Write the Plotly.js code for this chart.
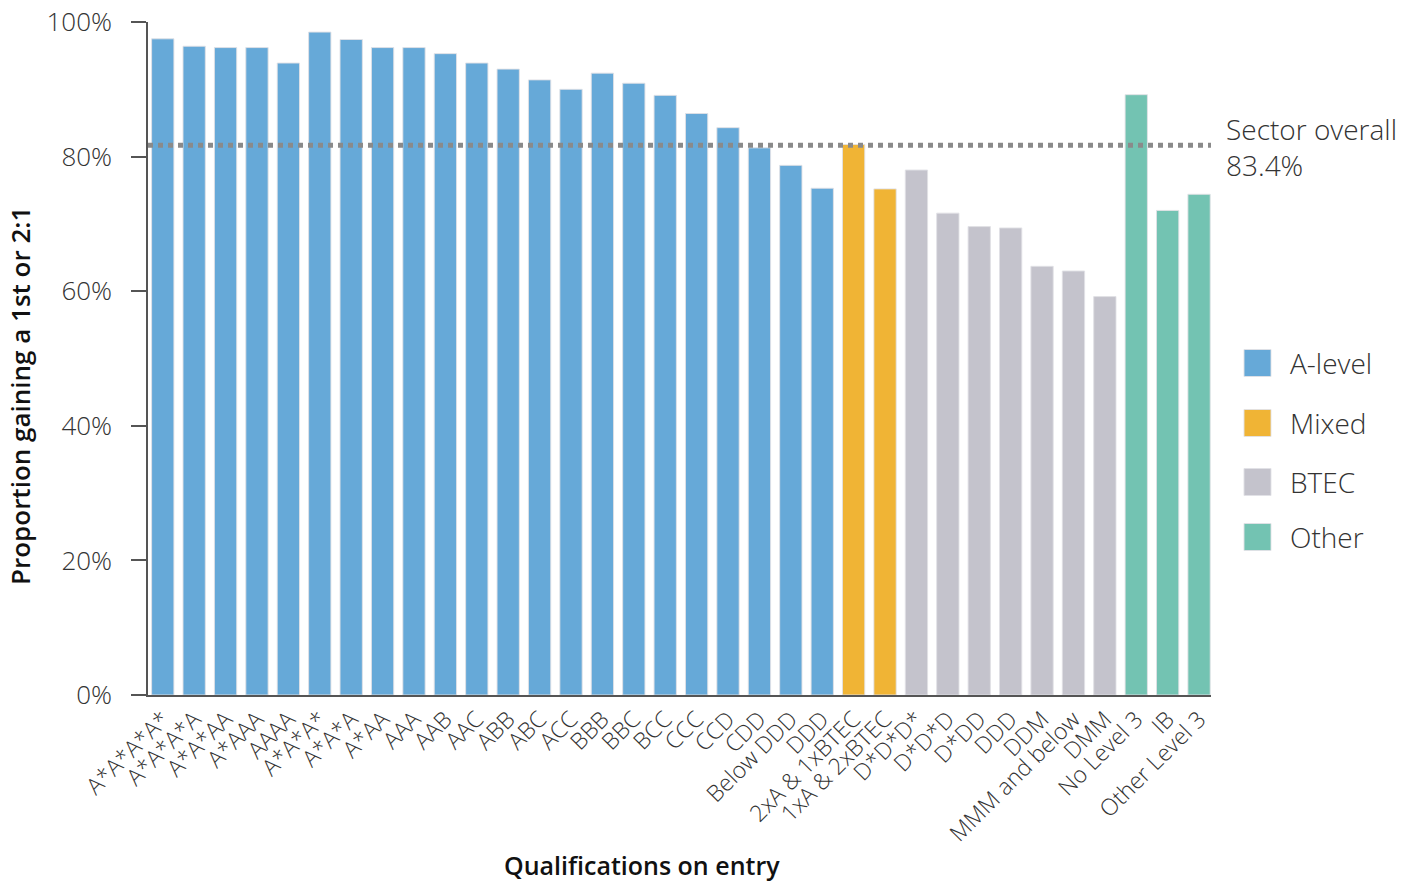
<!DOCTYPE html>
<html>
<head>
<meta charset="utf-8">
<script src="https://cdn.plot.ly/plotly-3.0.1.min.js"></script>
<style>
  html, body { margin: 0; padding: 0; background: #fff; }
  #chart { width: 1422px; height: 886px; }
</style>
</head>
<body>
<div id="chart"></div>
<script>
const categories = [
  "A*A*A*A*", "A*A*A*A", "A*A*AA", "A*AAA", "AAAA", "A*A*A*", "A*A*A", "A*AA", "AAA",
  "AAB", "AAC", "ABB", "ABC", "ACC", "BBB", "BBC", "BCC", "CCC", "CCD", "CDD",
  "Below DDD", "DDD", "2xA & 1xBTEC", "1xA & 2xBTEC",
  "D*D*D*", "D*D*D", "D*DD", "DDD", "DDM", "MMM and below", "DMM",
  "No Level 3", "IB", "Other Level 3"
];
const values = [
  97.5, 96.4, 96.2, 96.2, 93.9, 98.5, 97.4, 96.2, 96.2,
  95.3, 93.9, 93.0, 91.4, 90.0, 92.4, 90.9, 89.1, 86.4, 84.3, 81.3,
  78.7, 75.3, 81.8, 75.2,
  78.0, 71.6, 69.6, 69.4, 63.7, 63.0, 59.2,
  89.2, 72.0, 74.4
];
const groupOf = [
  "A-level","A-level","A-level","A-level","A-level","A-level","A-level","A-level","A-level",
  "A-level","A-level","A-level","A-level","A-level","A-level","A-level","A-level","A-level","A-level","A-level",
  "A-level","A-level","Mixed","Mixed",
  "BTEC","BTEC","BTEC","BTEC","BTEC","BTEC","BTEC",
  "Other","Other","Other"
];
const groupNames = ["A-level", "Mixed", "BTEC", "Other"];
const groupColors = ["#66a9d8", "#f0b435", "#c4c3cc", "#73c3b2"];
const yTickVals = [0, 20, 40, 60, 80, 100];
const yTickText = ["0%", "20%", "40%", "60%", "80%", "100%"];
const sectorLineValue = 81.7;
const sectorLabel = "Sector overall<br>83.4%";

const FONT = "'Open Sans', Lato, sans-serif";
const TXT = "#333333";

const positions = categories.map((c, i) => i);

const traces = groupNames.map((g, gi) => {
  const idx = positions.filter(i => groupOf[i] === g);
  return {
    type: "bar",
    name: g,
    x: idx,
    y: idx.map(i => values[i]),
    width: 0.71,
    marker: { color: groupColors[gi], line: { color: "rgba(225,225,230,0.9)", width: 1 } },
    showlegend: false,
    hoverinfo: "x+y"
  };
});

const legendY = [363, 423, 482, 537];
const plotTop = 22, plotH = 673, plotL = 148, plotW = 1063;
const px2x = p => (p - plotL) / plotW;
const px2y = p => (plotTop + plotH - p) / plotH;

const shapes = [{
  type: "line", xref: "paper", yref: "y",
  x0: 0, x1: 1, y0: sectorLineValue, y1: sectorLineValue,
  line: { color: "#8a8a8a", width: 5, dash: "5px,5px" },
  layer: "above"
}];
const annotations = [
  {
    xref: "paper", yref: "paper", x: px2x(1224), y: px2y(108),
    xanchor: "left", yanchor: "top", align: "left", showarrow: false,
    text: sectorLabel, font: { family: FONT, size: 28, color: TXT, weight: 300 }
  },
  {
    xref: "paper", yref: "paper", x: px2x(642), y: px2y(884),
    xanchor: "center", yanchor: "bottom", showarrow: false,
    text: "Qualifications on entry", font: { family: FONT, size: 25, color: "#111", weight: 600 }
  },
  {
    xref: "paper", yref: "paper", x: px2x(20), y: px2y(396),
    xanchor: "center", yanchor: "middle", showarrow: false, textangle: -90,
    text: "Proportion gaining a 1st or 2:1", font: { family: FONT, size: 26, color: "#111", weight: 600 }
  }
];
groupNames.forEach((g, gi) => {
  const cy = legendY[gi];
  shapes.push({
    type: "rect", xref: "paper", yref: "paper",
    x0: px2x(1244), x1: px2x(1271), y0: px2y(cy + 13.5), y1: px2y(cy - 13.5),
    fillcolor: groupColors[gi], line: { color: "rgba(225,225,230,0.9)", width: 1 }
  });
  annotations.push({
    xref: "paper", yref: "paper", x: px2x(1288), y: px2y(cy),
    xanchor: "left", yanchor: "middle", showarrow: false,
    text: g, font: { family: FONT, size: 28, color: TXT, weight: 300 }
  });
});

const layout = {
  width: 1422, height: 886,
  margin: { l: plotL, r: 1422 - plotL - plotW, t: plotTop, b: 886 - plotTop - plotH, pad: 0 },
  paper_bgcolor: "#fff", plot_bgcolor: "#fff",
  barmode: "overlay",
  font: { family: FONT, color: TXT },
  xaxis: {
    range: [-0.47, 33.38],
    tickmode: "array", tickvals: positions, ticktext: categories,
    tickangle: -45, ticks: "", showgrid: false, zeroline: false,
    showline: true, linecolor: "#555", linewidth: 1.5,
    tickfont: { family: FONT, size: 23, color: TXT, weight: 300 },
    fixedrange: true
  },
  yaxis: {
    range: [0, 100],
    tickmode: "array", tickvals: yTickVals, ticktext: yTickText,
    ticks: "outside", ticklen: 15, tickcolor: "#555", tickwidth: 1.5,
    ticklabelstandoff: 14,
    showgrid: false, zeroline: false,
    showline: true, linecolor: "#555", linewidth: 1.5,
    tickfont: { family: FONT, size: 26, color: TXT, weight: 300 },
    fixedrange: true
  },
  shapes: shapes,
  annotations: annotations,
  showlegend: false
};

Plotly.newPlot("chart", traces, layout, { displayModeBar: false, responsive: false });
</script>
</body>
</html>
